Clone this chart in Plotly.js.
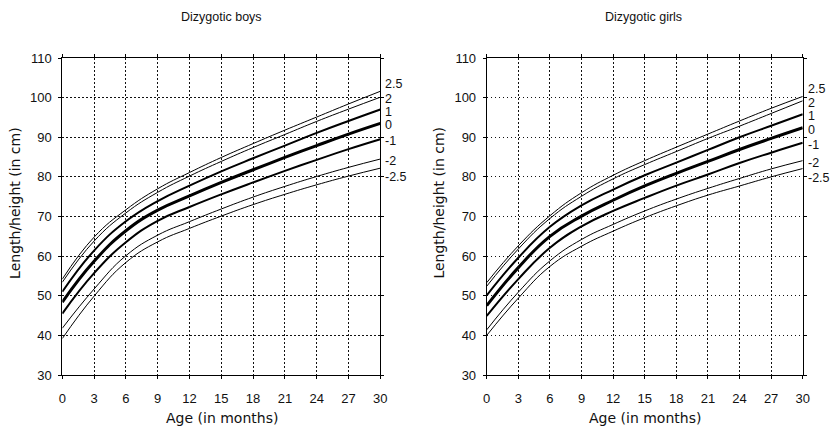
<!DOCTYPE html>
<html>
<head>
<meta charset="utf-8">
<script src="https://cdn.plot.ly/plotly-3.0.1.min.js"></script>
<style>
html,body{margin:0;padding:0;background:#fff;}
#chart{width:834px;height:427px;}
</style>
</head>
<body>
<div id="chart"></div>
<script>
// ---- data ----
const months = [0, 3, 6, 9, 12, 15, 18, 21, 24, 27, 30];
const sdLabels = ["2.5", "2", "1", "0", "-1", "-2", "-2.5"];

// Dizygotic boys (length/height in cm)
const boysP25 = [54.2, 64.8, 71.7, 77.0, 81.1, 84.9, 88.4, 91.8, 95.1, 98.4, 101.6];
const boysP20 = [53.4, 63.8, 70.9, 76.1, 80.2, 83.9, 87.4, 90.7, 94.0, 97.1, 100.1];
const boysP10 = [51.0, 61.4, 68.8, 73.9, 77.8, 81.4, 84.7, 87.9, 91.1, 94.1, 97.0];
const boysM00 = [48.4, 58.7, 66.4, 71.6, 75.2, 78.6, 81.8, 84.9, 87.9, 90.8, 93.5];
const boysN10 = [45.5, 55.7, 63.5, 68.9, 72.4, 75.6, 78.6, 81.5, 84.3, 87.0, 89.5];
const boysN20 = [41.8, 51.7, 60.1, 65.3, 68.7, 71.9, 74.9, 77.6, 80.1, 82.4, 84.5];
const boysN25 = [39.2, 49.9, 58.4, 63.6, 67.0, 70.1, 73.0, 75.6, 78.0, 80.2, 82.2];

// Dizygotic girls (length/height in cm)
const girlsP25 = [53.3, 62.6, 70.2, 76.0, 80.4, 84.1, 87.5, 90.8, 94.1, 97.3, 100.3];
const girlsP20 = [52.4, 61.8, 69.5, 75.1, 79.5, 83.1, 86.4, 89.7, 92.8, 96.0, 99.2];
const girlsP10 = [50.1, 59.6, 67.4, 72.8, 76.8, 80.4, 83.6, 86.8, 90.0, 92.9, 95.8];
const girlsM00 = [47.5, 57.1, 65.0, 70.1, 74.1, 77.7, 80.9, 83.9, 86.9, 89.7, 92.4];
const girlsN10 = [44.9, 54.2, 62.1, 67.5, 71.4, 74.7, 77.8, 80.6, 83.5, 86.1, 88.6];
const girlsN20 = [41.4, 50.9, 58.8, 64.2, 68.0, 71.4, 74.4, 77.1, 79.6, 82.0, 84.1];
const girlsN25 = [40.0, 49.4, 57.4, 62.5, 66.3, 69.7, 72.7, 75.4, 77.7, 80.0, 82.1];

const xTicks = [0, 3, 6, 9, 12, 15, 18, 21, 24, 27, 30];
const yTicks = [30, 40, 50, 60, 70, 80, 90, 100, 110];

// ---- styles ----
const widths = [1, 1, 2, 3, 2, 1, 1];
const labelShift = [7, -2, -2, -2, -2, -2, -9];
const FONT = "Liberation Sans, Arial, sans-serif";
const TFONT = "DejaVu Sans, sans-serif";

const boys = [boysP25, boysP20, boysP10, boysM00, boysN10, boysN20, boysN25];
const girls = [girlsP25, girlsP20, girlsP10, girlsM00, girlsN10, girlsN20, girlsN25];

const traces = [];
const annotations = [];
function addPanel(series, xa, ya) {
  series.forEach((ys, i) => {
    traces.push({
      x: months, y: ys, xaxis: xa, yaxis: ya,
      type: "scatter", mode: "lines",
      line: {color: "#000", width: widths[i], shape: "spline", smoothing: 1.3},
      hoverinfo: "skip", showlegend: false
    });
    annotations.push({
      xref: xa, yref: ya,
      x: months[months.length - 1], y: ys[ys.length - 1],
      xanchor: "left", yanchor: "middle", xshift: 4, yshift: labelShift[i],
      text: sdLabels[i], showarrow: false, borderpad: 0,
      font: {family: FONT, size: 12.5, color: "#111"}
    });
  });
}
addPanel(boys, "x", "y");
addPanel(girls, "x2", "y2");

function txt(text, x, y, size, angle, fam) {
  return {xref: "paper", yref: "paper", x: x, y: y, xanchor: "center", yanchor: "middle",
    text: text, showarrow: false, textangle: angle || 0,
    font: {family: fam || FONT, size: size, color: "#111"}};
}
annotations.push(txt("Dizygotic boys", 0.265, 1.13, 12.5));
annotations.push(txt("Dizygotic girls", 0.771, 1.13, 12.5));
annotations.push(txt("Age (in months)", 0.266, -0.136, 14, 0, TFONT));
annotations.push(txt("Age (in months)", 0.773, -0.136, 14, 0, TFONT));
annotations.push(txt("Length/height (in cm)", 0.018, 0.543, 14, -90, TFONT));
annotations.push(txt("Length/height (in cm)", 0.526, 0.543, 14, -90, TFONT));

const GRIDDASH = "1.5px,2.5px";
function xAxis(domain, anchor) {
  return {domain: domain, anchor: anchor, range: [0, 30], tickvals: xTicks,
    ticktext: xTicks.map(String), showgrid: true, gridcolor: "#111", griddash: GRIDDASH,
    gridwidth: 1, zeroline: false, showline: true, linecolor: "#000", linewidth: 1,
    mirror: "ticks", ticks: "outside", ticklen: 3, tickcolor: "#000",
    ticklabelstandoff: 8,
    tickfont: {family: FONT, size: 13, color: "#111"}, fixedrange: true};
}
function yAxis(anchor) {
  return {domain: [0, 1], anchor: anchor, range: [30, 110], tickvals: yTicks,
    ticktext: yTicks.map(String), showgrid: true, gridcolor: "#111", griddash: GRIDDASH,
    gridwidth: 1, zeroline: false, showline: true, linecolor: "#000", linewidth: 1,
    mirror: "ticks", ticks: "outside", ticklen: 3, tickcolor: "#000",
    ticklabelstandoff: 4,
    tickfont: {family: FONT, size: 13, color: "#111"}, fixedrange: true};
}

const layout = {
  width: 834, height: 427,
  margin: {l: 0, r: 0, t: 58, b: 52},
  paper_bgcolor: "#fff", plot_bgcolor: "#fff",
  showlegend: false,
  xaxis: xAxis([0.0747, 0.456], "y"),
  yaxis: yAxis("x"),
  xaxis2: xAxis([0.5836, 0.9625], "y2"),
  yaxis2: yAxis("x2"),
  annotations: annotations
};

Plotly.newPlot("chart", traces, layout, {displayModeBar: false, staticPlot: true});
</script>
</body>
</html>
